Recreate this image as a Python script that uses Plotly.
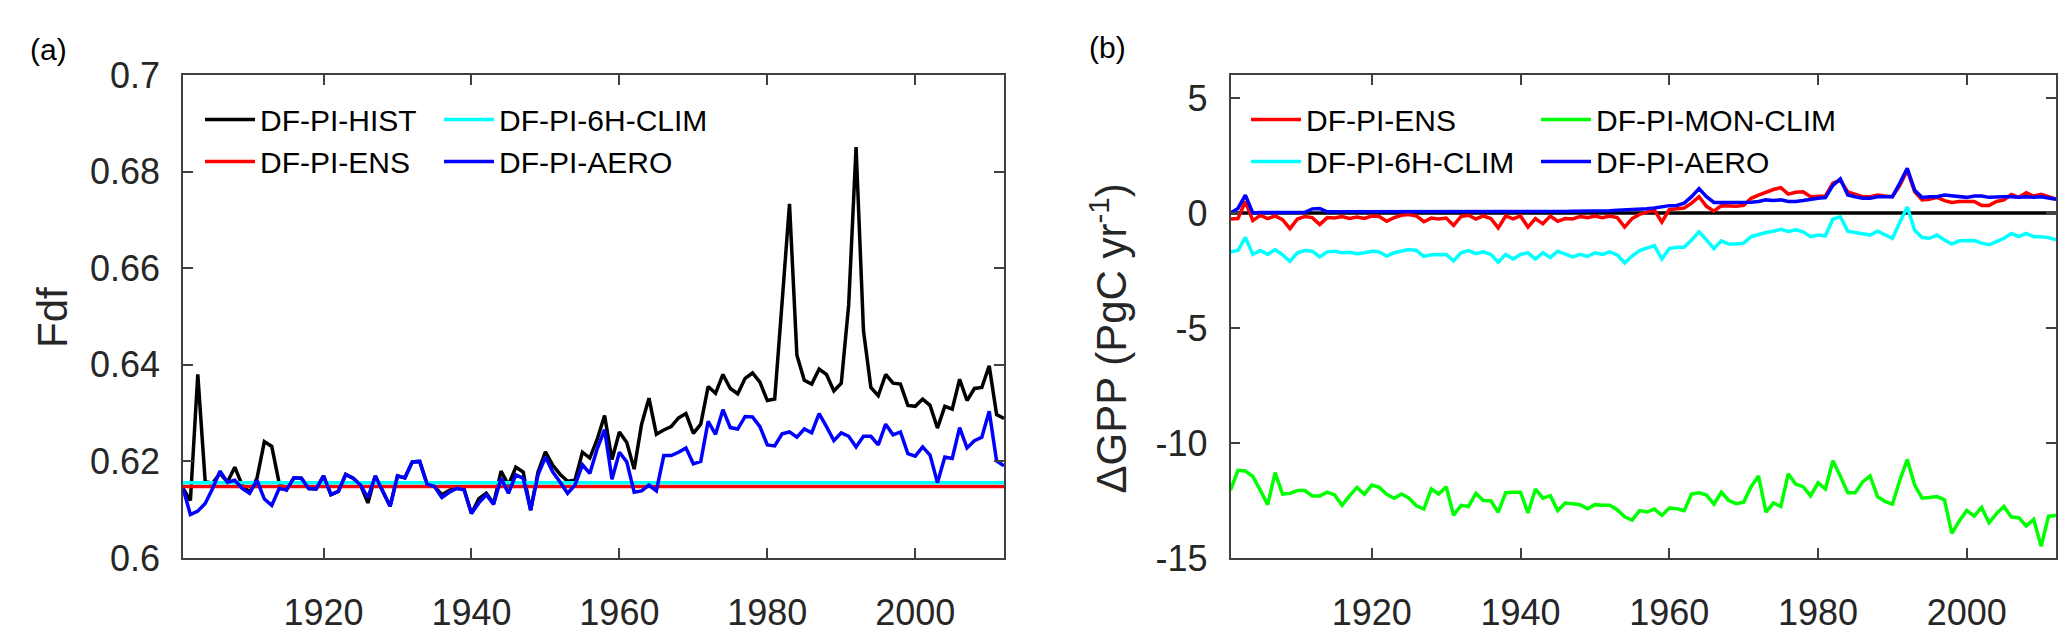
import plotly.graph_objects as go

# ---------------- data ----------------
years = list(range(1901, 2013))

# Panel (a): Fdf
fdf_hist = [
    0.6144, 0.6119, 0.6380, 0.6158, 0.6155, 0.6175, 0.6157, 0.6188, 0.6151, 0.6136,
    0.6165, 0.6241, 0.6231, 0.6155, 0.6141, 0.6166, 0.6165, 0.6144, 0.6143, 0.6170,
    0.6131, 0.6138, 0.6173, 0.6165, 0.6151, 0.6114, 0.6170, 0.6138, 0.6107, 0.6170,
    0.6166, 0.6199, 0.6200, 0.6153, 0.6148, 0.6131, 0.6140, 0.6146, 0.6143, 0.6092,
    0.6123, 0.6134, 0.6113, 0.6180, 0.6151, 0.6188, 0.6178, 0.6099, 0.6178, 0.6220,
    0.6192, 0.6173, 0.6159, 0.6161, 0.6219, 0.6207, 0.6246, 0.6295, 0.6204, 0.6261,
    0.6239, 0.6184, 0.6277, 0.6331, 0.6256, 0.6265, 0.6272, 0.6290, 0.6299, 0.6258,
    0.6277, 0.6355, 0.6341, 0.6380, 0.6351, 0.6340, 0.6372, 0.6383, 0.6364, 0.6326,
    0.6329, 0.6530, 0.6733, 0.6420, 0.6368, 0.6360, 0.6391, 0.6380, 0.6346, 0.6362,
    0.6524, 0.6851, 0.6471, 0.6353, 0.6336, 0.6380, 0.6362, 0.6360, 0.6316, 0.6314,
    0.6329, 0.6316, 0.6269, 0.6314, 0.6308, 0.6370, 0.6326, 0.6351, 0.6353, 0.6398,
    0.6297, 0.6289,
]
fdf_aero = [
    0.6144, 0.6090, 0.6097, 0.6113, 0.6144, 0.6180, 0.6157, 0.6161, 0.6144, 0.6134,
    0.6161, 0.6122, 0.6109, 0.6144, 0.6141, 0.6166, 0.6165, 0.6144, 0.6143, 0.6170,
    0.6131, 0.6138, 0.6173, 0.6165, 0.6151, 0.6125, 0.6170, 0.6138, 0.6107, 0.6170,
    0.6166, 0.6199, 0.6200, 0.6153, 0.6148, 0.6125, 0.6136, 0.6144, 0.6141, 0.6092,
    0.6114, 0.6131, 0.6111, 0.6165, 0.6134, 0.6172, 0.6165, 0.6099, 0.6172, 0.6209,
    0.6178, 0.6157, 0.6134, 0.6151, 0.6193, 0.6175, 0.6226, 0.6266, 0.6163, 0.6219,
    0.6199, 0.6136, 0.6139, 0.6151, 0.6139, 0.6212, 0.6212, 0.6219, 0.6228, 0.6195,
    0.6200, 0.6283, 0.6256, 0.6307, 0.6270, 0.6267, 0.6293, 0.6292, 0.6272, 0.6234,
    0.6232, 0.6257, 0.6261, 0.6250, 0.6267, 0.6259, 0.6299, 0.6272, 0.6243, 0.6259,
    0.6252, 0.6230, 0.6252, 0.6252, 0.6234, 0.6277, 0.6255, 0.6261, 0.6216, 0.6211,
    0.6230, 0.6213, 0.6156, 0.6209, 0.6206, 0.6270, 0.6228, 0.6243, 0.6250, 0.6304,
    0.6201, 0.6191,
]
fdf_ens_level = 0.6148      # flat DF-PI-ENS line
fdf_clim6h_level = 0.6156   # flat DF-PI-6H-CLIM line

# Panel (b): delta GPP (PgC/yr)
gpp_ens = [
    -0.26, -0.24, 0.50, -0.33, -0.10, -0.24, -0.13, -0.29, -0.68, -0.26,
    -0.15, -0.20, -0.50, -0.20, -0.22, -0.15, -0.24, -0.18, -0.24, -0.13,
    -0.15, -0.36, -0.20, -0.10, -0.07, -0.13, -0.38, -0.22, -0.26, -0.22,
    -0.54, -0.15, -0.10, -0.26, -0.13, -0.24, -0.65, -0.13, -0.26, -0.13,
    -0.61, -0.24, -0.47, -0.13, -0.36, -0.24, -0.26, -0.15, -0.20, -0.13,
    -0.20, -0.13, -0.20, -0.61, -0.24, -0.06, 0.04, 0.13, -0.40, 0.15,
    0.18, 0.22, 0.43, 0.71, 0.29, 0.08, 0.32, 0.29, 0.29, 0.33,
    0.64, 0.78, 0.92, 1.02, 1.10, 0.82, 0.90, 0.92, 0.71, 0.71,
    0.74, 1.30, 1.43, 0.92, 0.82, 0.71, 0.71, 0.78, 0.74, 0.71,
    1.20, 1.85, 0.92, 0.57, 0.60, 0.68, 0.54, 0.46, 0.50, 0.50,
    0.50, 0.33, 0.33, 0.50, 0.57, 0.81, 0.68, 0.88, 0.74, 0.81,
    0.71, 0.60,
]
gpp_clim6h = [
    -1.69, -1.63, -1.06, -1.80, -1.63, -1.80, -1.59, -1.82, -2.10, -1.73,
    -1.63, -1.66, -1.91, -1.69, -1.66, -1.73, -1.71, -1.77, -1.73, -1.66,
    -1.69, -1.87, -1.73, -1.66, -1.59, -1.63, -1.89, -1.82, -1.80, -1.80,
    -2.08, -1.73, -1.63, -1.77, -1.69, -1.80, -2.14, -1.80, -2.00, -1.80,
    -1.73, -2.00, -1.73, -1.94, -1.66, -1.80, -1.91, -1.80, -1.89, -1.73,
    -1.80, -1.69, -1.82, -2.17, -1.87, -1.63, -1.52, -1.42, -2.00, -1.55,
    -1.49, -1.49, -1.17, -0.82, -1.17, -1.55, -1.21, -1.35, -1.35, -1.31,
    -1.03, -0.92, -0.85, -0.79, -0.71, -0.80, -0.73, -0.82, -1.03, -0.96,
    -0.99, -0.26, -0.17, -0.79, -0.85, -0.93, -0.96, -0.79, -0.93, -1.10,
    -0.40, 0.26, -0.75, -1.07, -1.10, -0.96, -1.17, -1.35, -1.21, -1.20,
    -1.20, -1.31, -1.38, -1.24, -1.10, -0.89, -1.03, -0.89, -1.03, -1.03,
    -1.07, -1.17,
]
gpp_monclim = [
    -12.05, -11.19, -11.22, -11.45, -12.05, -12.68, -11.29, -12.22, -12.19, -12.07,
    -12.07, -12.30, -12.30, -12.14, -12.26, -12.71, -12.30, -11.93, -12.23, -11.83,
    -11.93, -12.23, -12.40, -12.22, -12.40, -12.73, -12.87, -12.00, -12.22, -11.90,
    -13.14, -12.71, -12.76, -12.19, -12.50, -12.51, -13.01, -12.16, -12.14, -12.14,
    -13.04, -12.00, -12.40, -12.29, -12.94, -12.61, -12.64, -12.68, -12.86, -12.68,
    -12.71, -12.71, -12.90, -13.21, -13.35, -12.94, -13.00, -12.87, -13.15, -12.83,
    -12.86, -12.94, -12.22, -12.16, -12.26, -12.66, -12.14, -12.50, -12.64, -12.57,
    -11.90, -11.43, -13.01, -12.61, -12.76, -11.34, -11.79, -11.90, -12.30, -11.73,
    -12.00, -10.77, -11.45, -12.16, -12.16, -11.69, -11.43, -12.33, -12.54, -12.66,
    -11.62, -10.72, -11.83, -12.40, -12.37, -12.33, -12.47, -13.93, -13.39, -12.93,
    -13.18, -12.80, -13.47, -13.07, -12.76, -13.22, -13.25, -13.61, -13.32, -14.49,
    -13.18, -13.15,
]
gpp_aero = [
    0.00, 0.20, 0.78, 0.00, 0.02, 0.02, 0.02, 0.02, 0.02, 0.03,
    0.03, 0.18, 0.20, 0.05, 0.05, 0.04, 0.05, 0.05, 0.04, 0.05,
    0.05, 0.04, 0.05, 0.05, 0.05, 0.04, 0.05, 0.05, 0.05, 0.04,
    0.05, 0.05, 0.05, 0.04, 0.05, 0.05, 0.05, 0.05, 0.05, 0.05,
    0.06, 0.06, 0.06, 0.07, 0.07, 0.07, 0.08, 0.08, 0.08, 0.08,
    0.09, 0.10, 0.12, 0.13, 0.14, 0.15, 0.18, 0.22, 0.27, 0.32,
    0.33, 0.43, 0.71, 1.06, 0.71, 0.46, 0.46, 0.46, 0.47, 0.46,
    0.47, 0.50, 0.57, 0.54, 0.57, 0.50, 0.50, 0.54, 0.60, 0.64,
    0.67, 1.20, 1.48, 0.78, 0.71, 0.64, 0.64, 0.71, 0.71, 0.71,
    1.30, 1.94, 0.99, 0.67, 0.71, 0.71, 0.78, 0.75, 0.71, 0.68,
    0.74, 0.74, 0.68, 0.71, 0.71, 0.71, 0.68, 0.71, 0.68, 0.71,
    0.64, 0.60,
]
gpp_zero_level = 0.0

# ticks
x_tickvals = [1920, 1940, 1960, 1980, 2000]
x_ticktext = ["1920", "1940", "1960", "1980", "2000"]
ya_tickvals = [0.6, 0.62, 0.64, 0.66, 0.68, 0.7]
ya_ticktext = ["0.6", "0.62", "0.64", "0.66", "0.68", "0.7"]
yb_tickvals = [-15, -10, -5, 0, 5]
yb_ticktext = ["-15", "-10", "-5", "0", "5"]

for s in (fdf_hist, fdf_aero, gpp_ens, gpp_clim6h, gpp_monclim, gpp_aero):
    assert len(s) == len(years), len(s)

fdf_ens = [fdf_ens_level] * len(years)
fdf_clim6h = [fdf_clim6h_level] * len(years)
gpp_zero = [gpp_zero_level] * len(years)

# ---------------- figure ----------------
FONT = "Liberation Sans, Arial, Helvetica, sans-serif"
LW = 3.5
AXC = "#404040"

fig = go.Figure()

def add(x, y, name, color, xa, ya, legend, show=True, width=LW):
    fig.add_trace(go.Scatter(
        x=x, y=y, name=name, mode="lines",
        line=dict(color=color, width=width),
        xaxis=xa, yaxis=ya, legend=legend, showlegend=show,
    ))

# panel (a)
add(years, fdf_hist, "DF-PI-HIST", "#000000", "x", "y", "legend")
add(years, fdf_ens, "DF-PI-ENS", "#FF0000", "x", "y", "legend")
add(years, fdf_clim6h, "DF-PI-6H-CLIM", "#00FFFF", "x", "y", "legend2")
add(years, fdf_aero, "DF-PI-AERO", "#0000FF", "x", "y", "legend2")

# panel (b)
add(years, gpp_zero, "zero", "#000000", "x2", "y2", "legend3", show=False)
add(years, gpp_ens, "DF-PI-ENS", "#FF0000", "x2", "y2", "legend3")
add(years, gpp_clim6h, "DF-PI-6H-CLIM", "#00FFFF", "x2", "y2", "legend3")
add(years, gpp_monclim, "DF-PI-MON-CLIM", "#00FF00", "x2", "y2", "legend4")
add(years, gpp_aero, "DF-PI-AERO", "#0000FF", "x2", "y2", "legend4")

W, H = 2067, 637
ML, MR, MT, MB = 175, 19, 67, 75
PW = W - ML - MR
PH = H - MT - MB

def px_x(p):
    return (p - ML) / PW

def px_y(p):
    return (H - MB - p) / PH

axis_common = dict(
    showline=True, linecolor=AXC, linewidth=1.5, mirror="ticks",
    ticks="inside", ticklen=10, tickwidth=1.5, tickcolor=AXC,
    showgrid=False, zeroline=False,
    tickfont=dict(family=FONT, size=36, color="#262626"),
)

leg_common = dict(
    xanchor="left", yanchor="top", bgcolor="rgba(0,0,0,0)", borderwidth=0,
    font=dict(family=FONT, size=30, color="#000000"),
    orientation="v", itemwidth=50, tracegroupgap=0,
)

fig.update_layout(
    width=W, height=H, autosize=False,
    margin=dict(l=ML, r=MR, t=MT, b=MB),
    paper_bgcolor="white", plot_bgcolor="white",
    font=dict(family=FONT, color="#000000"),
    xaxis=dict(domain=[0, px_x(996)], range=[1901, 2012],
               tickvals=x_tickvals, ticktext=x_ticktext, ticklabelstandoff=22,
               anchor="y", **axis_common),
    yaxis=dict(domain=[0, 1], range=[0.6, 0.7],
               tickvals=ya_tickvals, ticktext=ya_ticktext, ticklabelstandoff=14,
               anchor="x", **axis_common),
    xaxis2=dict(domain=[px_x(1222.5), 1], range=[1901, 2012],
                tickvals=x_tickvals, ticktext=x_ticktext, ticklabelstandoff=22,
                anchor="y2", **axis_common),
    yaxis2=dict(domain=[0, 1], range=[-15, 6],
                tickvals=yb_tickvals, ticktext=yb_ticktext, ticklabelstandoff=14,
                anchor="x2", **axis_common),
    legend=dict(x=px_x(192), y=px_y(86), **leg_common),
    legend2=dict(x=px_x(431), y=px_y(86), **leg_common),
    legend3=dict(x=px_x(1238), y=px_y(86), **leg_common),
    legend4=dict(x=px_x(1528), y=px_y(86), **leg_common),
    showlegend=True,
)

ann_font = dict(family=FONT, color="#000000")
fig.add_annotation(text="(a)", xref="paper", yref="paper", x=px_x(40), y=px_y(41),
                   xanchor="center", yanchor="middle", showarrow=False,
                   font=dict(size=30, **ann_font))
fig.add_annotation(text="(b)", xref="paper", yref="paper", x=px_x(1099), y=px_y(39),
                   xanchor="center", yanchor="middle", showarrow=False,
                   font=dict(size=30, **ann_font))
fig.add_annotation(text="Fdf", xref="paper", yref="paper", x=px_x(45), y=px_y(316),
                   xanchor="center", yanchor="middle", showarrow=False, textangle=-90,
                   font=dict(size=42, color="#262626", family=FONT))
fig.add_annotation(text="ΔGPP (PgC yr<sup>-1</sup>)", xref="paper", yref="paper",
                   x=px_x(1101), y=px_y(337),
                   xanchor="center", yanchor="middle", showarrow=False, textangle=-90,
                   font=dict(size=42, color="#262626", family=FONT))

fig.write_html("out.html")
